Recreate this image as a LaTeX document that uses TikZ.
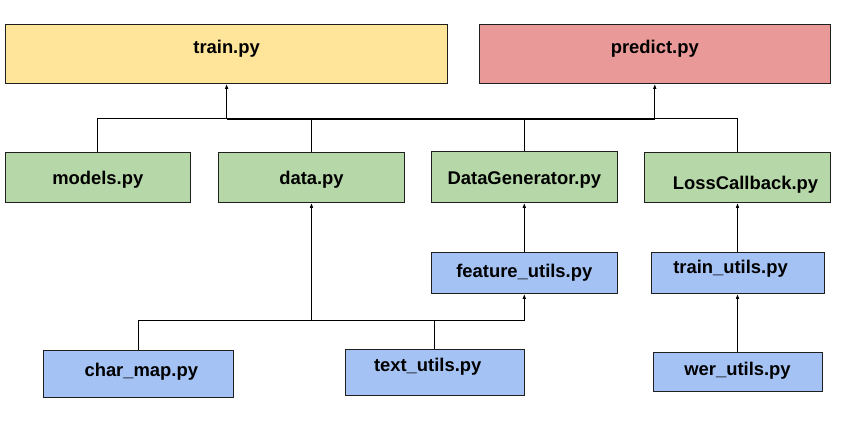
\documentclass[tikz,border=0pt]{standalone}
\usepackage{fontspec}
\setmainfont{Liberation Sans}
\usepackage{tikz}
\usetikzlibrary{arrows.meta,calc,positioning}
\definecolor{trainyellow}{HTML}{FFE599}
\definecolor{predictred}{HTML}{EA9999}
\definecolor{modgreen}{HTML}{B6D7A8}
\definecolor{utilblue}{HTML}{A4C2F4}
\definecolor{edgegray}{HTML}{1F1F1F}
\tikzstyle{deps}=[
  >={Latex[length=5bp,width=3.6bp]}, line width=1bp,
  font=\fontsize{18.4bp}{22bp}\selectfont\bfseries
]
\tikzstyle{pybox}=[
  draw=edgegray,line width=1bp,rectangle,inner sep=0pt,
  text height=13bp,text depth=4bp
]
\tikzstyle{topbox}=[
  pybox,minimum height=59bp,text height=8.5bp,text depth=8.5bp
]
\tikzstyle{modbox}=[
  pybox,fill=modgreen,minimum width=186bp,minimum height=50bp,
  text height=16bp,text depth=1bp
]
\tikzstyle{utilbox}=[
  pybox,fill=utilblue
]
\tikzstyle{link}=[
  ->,draw=black,line width=1bp
]
\tikzstyle{busline}=[
  draw=black,line width=2bp
]

\begin{document}
\begin{tikzpicture}[deps]
    \useasboundingbox (0bp,0bp) rectangle (853bp,-425bp);

    % entry points
    \node (train) at (226.6bp,-53.8bp) [topbox,fill=trainyellow,minimum width=442bp] {train.py};
    \node (predict) at (654.8bp,-53.8bp) [topbox,fill=predictred,minimum width=351bp] {predict.py};

    % modules
    \node (models) at (97.8bp,-177.3bp) [modbox,minimum width=185bp] {models.py};
    \node (data) at (311.5bp,-177.3bp) [modbox] {data.py};
    \node (datagen) at (524.3bp,-176.8bp) [modbox,minimum height=51bp] {DataGenerator.py};
    \node (losscb) at (737.5bp,-177.3bp) [modbox,text height=25bp,text depth=0bp] {\hspace*{16bp}LossCallback.py};

    % utils
    \node (featutils) at (524.3bp,-272.8bp) [utilbox,minimum width=186bp,minimum height=41bp] {feature\_utils.py};
    \node (trainutils) at (737.5bp,-272.8bp) [utilbox,minimum width=173bp,minimum height=41bp,
      text height=9bp,text depth=8bp] {train\_utils.py\hspace*{14bp}};
    \node (charmap) at (138.3bp,-373.7bp) [utilbox,minimum width=190bp,minimum height=46.7bp,
      text height=11bp,text depth=6bp] {\hspace*{6bp}char\_map.py};
    \node (textutils) at (434.7bp,-372.3bp) [utilbox,minimum width=179bp,minimum height=46bp,
      text height=8bp,text depth=9bp] {text\_utils.py\hspace*{14bp}};
    \node (werutils) at (737.5bp,-371.8bp) [utilbox,minimum width=169bp,minimum height=39bp,
      text height=12bp,text depth=5bp] {wer\_utils.py};

    % junctions of the buses
    \coordinate (jtrain) at ($(train.south)+(0bp,-35bp)$);
    \coordinate (jpredict) at ($(predict.south)+(0bp,-35bp)$);
    \coordinate (jdata) at ($(data.south)+(0bp,-118bp)$);

    % upper bus
    \draw [busline] (jtrain) -- (jpredict);
    \draw [link] (jtrain) -- (train.south);
    \draw [link] (jpredict) -- (predict.south);
    \draw (models.north) |- (jtrain);
    \draw (data.north) -- (data.north |- jtrain);
    \draw (datagen.north) -- (datagen.north |- jpredict);
    \draw (losscb.north) |- (jpredict);

    % lower bus
    \draw [link] (charmap.north) |- (featutils.south |- jdata) -- (featutils.south);
    \draw [link] (textutils.north) |- (jdata) -- (data.south);
    \draw [link] (featutils) -- (datagen);
    \draw [link] (trainutils) -- (losscb);
    \draw [link] (werutils) -- (trainutils);

  \end{tikzpicture}
\end{document}
